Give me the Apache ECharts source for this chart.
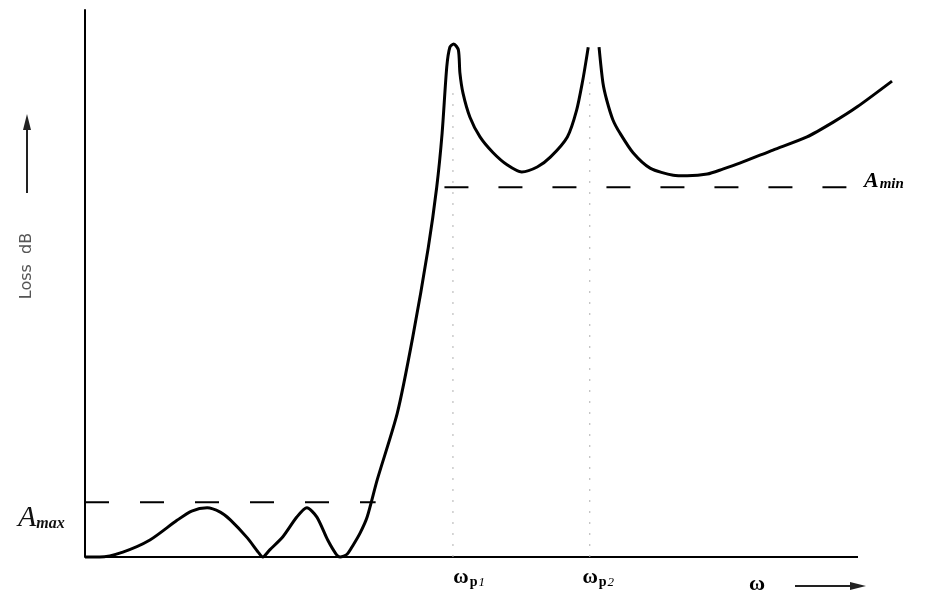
<!DOCTYPE html>
<html>
<head>
<meta charset="utf-8">
<script src="https://cdn.jsdelivr.net/npm/echarts@6/dist/echarts.min.js"></script>
<style>
html,body{margin:0;padding:0;background:#fff;}
#chart{width:934px;height:606px;}
</style>
</head>
<body>
<div id="chart"></div>
<script>
// Loss curve (omega, loss); null breaks the curve at the second pole
const curveOmega = [0,1.9,4.9,8.4,11.9,13.8,15.8,17.5,18.8,21.0,22.4,23.0,23.9,25.6,27.4,28.7,30.0,31.4,32.5,33.0,33.9,34.7,35.6,36.5,37.8,40.4,42.4,44.4,45.5,46.2,46.8,47.2,47.7,48.3,48.5,48.9,49.8,51.1,52.8,54.6,56.5,58.5,60.2,62.4,63.6,64.4,64.9,65.1,null,66.5,67.0,67.5,68.3,69.2,70.9,73.1,76.1,77.9,80.5,82.5,84.7,89.0,93.4,96.8,99.9,104.4];
const curveLoss  = [0,0,0.9,3.1,6.7,8.4,9.0,8.2,6.8,3.5,0.9,0,1.3,3.7,7.3,9.0,7.3,3.1,0.5,0,0.5,2.2,4.4,7.3,14.1,26.3,40.2,56.5,67.6,77.5,89.6,93.2,93.8,92.7,88.5,84.8,80.4,76.8,73.9,71.7,70.4,71.3,73.1,76.8,81.7,87.2,91.4,93.2,null,93.2,86.7,83.5,79.9,77.5,73.9,71.1,69.8,69.7,70.0,70.9,72.0,74.4,76.8,79.5,82.3,87.0];
const axisEnd = 100;
const Amax = 10;
const Amin = 67.6;
const amaxSpan = [0, 37.6];
const aminSpan = [46.5, 98.5];
const poleOmega = [47.6, 65.3];
const poleDotTop = [85, 88];
const tickValues = [49.7, 66.4];
const tickLabels = ['ωp1', 'ωp2'];

const curveData = curveOmega.map((x, i) => (x === null ? [null, null] : [x, curveLoss[i]]));

const chart = echarts.init(document.getElementById('chart'), null, {renderer: 'canvas'});

const serif = '"Liberation Serif", "DejaVu Serif", serif';

const option = {
  backgroundColor: '#ffffff',
  animation: false,
  grid: {left: 85, right: 37.35, top: 10, bottom: 49, containLabel: false},
  xAxis: {
    type: 'value', min: 0, max: 105,
    axisLine: {show: false},
    axisTick: {show: false},
    splitLine: {show: false},
    axisLabel: {
      customValues: tickValues,
      margin: 10,
      verticalAlign: 'top',
      formatter: function (v) {
        const i = tickValues.indexOf(v);
        const t = i >= 0 ? tickLabels[i] : '';
        return '{w|' + t.charAt(0) + '}{p|' + t.charAt(1) + '}{n|' + t.slice(2) + '}';
      },
      rich: {
        w: {fontFamily: serif, fontWeight: 'bold', fontSize: 21, color: '#000'},
        p: {fontFamily: serif, fontWeight: 'bold', fontSize: 14, color: '#000', padding: [8, 0, 0, 1]},
        n: {fontFamily: serif, fontStyle: 'italic', fontSize: 13, color: '#000', padding: [9, 0, 0, 1]}
      }
    }
  },
  yAxis: {
    type: 'value', min: 0, max: 100,
    axisLine: {show: true, onZero: false, lineStyle: {color: '#000', width: 2}},
    axisTick: {show: false},
    axisLabel: {show: false},
    splitLine: {show: false}
  },
  series: [
    {
      type: 'line', data: [[0, 0], [axisEnd, 0]],
      symbol: 'none', silent: true,
      lineStyle: {color: '#000', width: 2}
    },
    {
      type: 'line', data: [[poleOmega[0], 0], [poleOmega[0], poleDotTop[0]]],
      symbol: 'none', silent: true,
      lineStyle: {color: '#b0b0b0', width: 1, type: [2, 9]}
    },
    {
      type: 'line', data: [[poleOmega[1], 0], [poleOmega[1], poleDotTop[1]]],
      symbol: 'none', silent: true,
      lineStyle: {color: '#b0b0b0', width: 1, type: [2, 9]}
    },
    {
      type: 'line', data: [[amaxSpan[0], Amax], [amaxSpan[1], Amax]],
      symbol: 'none', silent: true,
      lineStyle: {color: '#000', width: 2, type: [24, 31]}
    },
    {
      type: 'line', data: [[aminSpan[0], Amin], [aminSpan[1], Amin]],
      symbol: 'none', silent: true,
      lineStyle: {color: '#000', width: 2, type: [24, 30]}
    },
    {
      type: 'line', data: curveData,
      symbol: 'none', smooth: 0.25, connectNulls: false, clip: false,
      lineStyle: {color: '#000', width: 3}
    }
  ],
  graphic: [
    {
      type: 'text', x: 27, y: 266, rotation: Math.PI / 2, silent: true,
      style: {text: 'Loss  dB', fontFamily: '"DejaVu Sans", sans-serif', fontSize: 16, fill: '#555',
              align: 'center', verticalAlign: 'middle'}
    },
    {type: 'line', silent: true, shape: {x1: 27, y1: 193, x2: 27, y2: 126}, style: {stroke: '#222', lineWidth: 2}},
    {type: 'polygon', silent: true, shape: {points: [[27, 114], [23, 130], [31, 130]]}, style: {fill: '#222'}},
    {
      type: 'text', x: 18, y: 518, silent: true,
      style: {
        text: '{a|A}{s|max}', verticalAlign: 'middle',
        rich: {
          a: {fontFamily: serif, fontStyle: 'italic', fontSize: 30, fill: '#111'},
          s: {fontFamily: serif, fontStyle: 'italic', fontWeight: 'bold', fontSize: 16, fill: '#111', padding: [12, 0, 0, 0]}
        }
      }
    },
    {
      type: 'text', x: 864, y: 181, silent: true,
      style: {
        text: '{a|A}{s|min}', verticalAlign: 'middle',
        rich: {
          a: {fontFamily: serif, fontStyle: 'italic', fontWeight: 'bold', fontSize: 22, fill: '#000'},
          s: {fontFamily: serif, fontStyle: 'italic', fontWeight: 'bold', fontSize: 15, fill: '#000', padding: [6, 0, 0, 1]}
        }
      }
    },
    {
      type: 'text', x: 757, y: 584, silent: true,
      style: {text: 'ω', fontFamily: serif, fontWeight: 'bold', fontSize: 22, fill: '#000', align: 'center', verticalAlign: 'middle'}
    },
    {type: 'line', silent: true, shape: {x1: 795, y1: 586, x2: 852, y2: 586}, style: {stroke: '#222', lineWidth: 2}},
    {type: 'polygon', silent: true, shape: {points: [[866, 586], [850, 582], [850, 590]]}, style: {fill: '#222'}}
  ]
};

chart.setOption(option);
</script>
</body>
</html>
